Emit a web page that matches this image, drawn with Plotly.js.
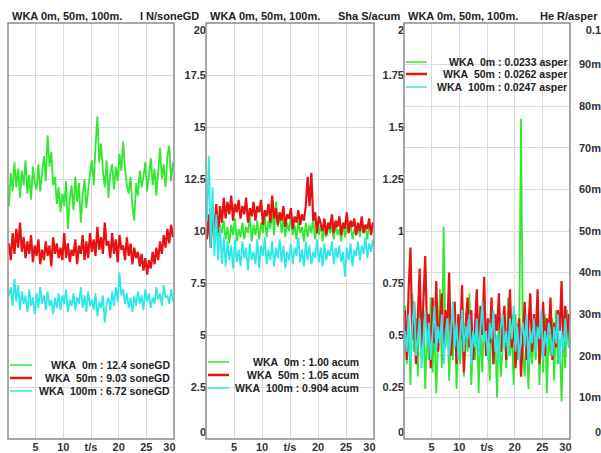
<!DOCTYPE html>
<html>
<head>
<meta charset="utf-8">
<script src="https://cdn.plot.ly/plotly-3.0.1.min.js"></script>
<style>html,body{margin:0;padding:0;background:#fff;}#chart{width:601px;height:453px;}</style>
</head>
<body>
<div id="chart"></div>
<script>
// ---------- data ----------
const t0 = 0.17, dt = 0.333, nPts = 90;   // sampling grid (s)
const seriesNames = ["WKA\u00a0\u00a00m", "WKA\u00a0\u00a050m", "WKA\u00a0\u00a0100m"];

// Panel 1: loudness N / soneGD
const loud0m = [11.2,12.8,11.9,13.3,12.1,13.0,11.6,12.9,12.2,
 13.4,11.8,12.7,11.5,13.1,12.3,12.0,13.2,11.9,
 12.8,13.6,12.4,14.6,13.1,13.8,12.2,
 12.6,11.3,12.1,10.9,11.8,11.2,12.4,10.1,11.5,12.2,11.0,12.6,
 11.4,12.3,10.4,11.7,12.5,11.1,12.0,
 12.8,13.4,12.2,14.1,15.5,13.3,14.2,12.9,
 12.1,13.4,11.6,12.8,13.2,12.0,
 13.1,12.4,13.7,12.9,14.3,13.0,12.2,
 11.8,12.6,11.2,10.5,12.3,11.7,12.9,12.1,
 12.6,13.3,11.9,12.8,13.5,12.2,13.0,11.7,12.7,14.0,12.5,13.2,12.1,13.6,14.1,12.4,13.3];
const loud50m = [9.4,8.6,9.9,8.9,10.1,9.2,10.4,9.0,9.7,
 8.7,9.5,8.9,9.8,8.5,9.3,8.8,9.6,8.4,
 9.1,8.6,9.5,8.8,9.3,8.3,9.7,8.9,9.4,8.7,
 9.2,8.6,9.9,8.7,9.4,8.5,9.1,8.8,9.6,8.4,
 9.3,8.9,9.8,8.6,9.5,8.7,9.9,9.0,
 9.6,8.8,10.2,9.1,9.7,8.9,10.4,9.3,
 9.5,8.7,9.9,8.9,9.6,8.5,9.8,9.1,
 9.3,8.6,9.7,8.8,9.4,8.4,9.2,8.7,
 9.0,8.3,8.9,8.1,8.7,7.9,8.6,8.2,9.0,8.4,
 9.2,8.6,9.5,8.9,9.8,9.2,10.1,9.4,10.3,9.7];
const loud100m = [6.9,7.3,6.4,7.7,6.6,7.4,6.2,7.1,6.5,
 6.9,6.1,7.2,6.4,6.8,6.0,7.0,6.3,7.3,
 6.5,6.9,6.2,7.1,6.4,6.7,6.0,6.8,6.3,7.0,
 6.2,6.9,6.5,7.2,6.1,6.7,6.4,7.0,6.2,6.8,
 6.5,7.3,6.3,6.9,6.1,7.1,6.4,6.7,
 6.2,7.0,5.9,6.6,6.3,6.9,5.6,6.5,
 6.8,6.2,7.1,6.4,7.3,6.6,8.0,6.9,
 7.2,6.5,7.0,6.3,6.8,6.1,6.9,6.4,
 7.1,6.5,6.9,6.2,7.2,6.6,7.0,6.3,6.8,6.5,
 7.3,6.7,7.0,6.4,7.4,6.8,6.9,6.5,7.2,6.6];

// Panel 2: sharpness S / acum
const sharp0m = [0.97,1.02,0.95,1.04,0.98,1.06,0.96,1.03,0.99,
 1.05,0.96,1.02,0.94,1.03,0.98,1.06,0.95,1.01,
 0.97,1.04,0.96,1.02,0.99,1.07,0.95,1.03,0.98,1.05,
 0.96,1.04,0.99,1.08,0.97,1.05,1.01,1.10,0.98,1.14,
 1.02,1.09,0.99,1.06,0.97,1.04,1.00,1.07,
 0.98,1.03,0.96,1.05,0.99,1.02,0.95,1.04,
 0.97,1.03,0.99,1.06,0.96,1.02,0.98,1.04,
 0.95,1.01,0.97,1.03,0.99,1.02,0.96,1.04,
 0.98,1.01,0.95,1.03,0.97,1.02,0.99,1.04,0.96,1.01,
 0.98,1.03,0.97,1.05,0.99,1.02,0.96,1.04,1.00,1.03];
const sharp50m = [0.96,1.08,0.92,1.10,1.01,1.13,0.99,1.12,1.04,
 1.16,1.06,1.14,1.08,1.17,1.05,1.13,1.09,1.15,
 1.06,1.12,1.08,1.16,1.04,1.11,1.07,1.14,1.05,1.12,
 1.09,1.15,1.03,1.10,1.07,1.13,1.04,1.17,1.06,1.11,
 1.03,1.09,1.05,1.12,1.02,1.08,1.06,1.11,
 1.01,1.07,1.04,1.10,1.03,1.08,1.05,1.12,
 1.26,1.12,1.28,1.05,1.09,0.99,1.07,1.03,
 1.00,1.06,0.98,1.04,1.01,1.08,0.99,1.05,
 1.02,1.07,0.98,1.04,1.01,1.09,0.99,1.05,1.02,1.06,
 0.98,1.04,1.00,1.07,0.99,1.03,1.01,1.06,0.98,1.04];
const sharp100m = [1.05,1.36,0.92,1.21,0.88,1.08,0.86,1.02,0.84,
 0.97,0.83,0.95,0.86,0.93,0.82,0.96,0.85,0.91,
 0.83,0.95,0.87,0.92,0.81,0.94,0.86,0.90,0.84,0.96,
 0.82,0.93,0.88,0.97,0.84,0.91,0.86,0.95,0.83,0.92,
 0.87,0.96,0.85,0.93,0.82,0.90,0.86,0.94,
 0.84,0.92,0.88,0.97,0.85,0.91,0.83,0.95,
 0.86,0.93,0.84,0.90,0.87,0.96,0.85,0.92,
 0.83,0.94,0.86,0.91,0.88,0.95,0.84,0.92,
 0.87,0.93,0.85,0.90,0.78,0.92,0.86,0.94,0.83,0.91,
 0.88,0.95,0.86,0.93,0.89,0.97,0.87,0.94,0.90,0.96];

// Panel 3: roughness R / asper
const rough0m = [0.032,0.018,0.027,0.013,0.035,0.021,0.029,0.015,0.038,
 0.022,0.031,0.012,0.026,0.019,0.034,0.016,0.028,0.011,
 0.024,0.036,0.017,0.051,0.022,0.030,0.014,0.027,0.019,0.033,
 0.012,0.025,0.018,0.031,0.015,0.028,0.021,0.035,0.013,0.024,
 0.019,0.030,0.011,0.027,0.016,0.033,0.020,0.026,
 0.014,0.029,0.018,0.025,0.010,0.031,0.015,0.022,
 0.028,0.017,0.034,0.020,0.026,0.013,0.030,0.019,
 0.024,0.077,0.021,0.015,0.027,0.012,0.024,0.018,
 0.026,0.019,0.033,0.013,0.028,0.016,0.030,0.011,0.025,0.020,
 0.029,0.014,0.031,0.018,0.024,0.009,0.027,0.017,0.031,0.022];
const rough50m = [0.031,0.019,0.036,0.046,0.024,0.033,0.018,0.029,0.041,
 0.022,0.035,0.044,0.026,0.030,0.017,0.034,0.023,0.038,
 0.021,0.029,0.035,0.019,0.031,0.026,0.040,0.020,0.028,0.033,
 0.018,0.030,0.024,0.037,0.016,0.028,0.034,0.022,0.031,0.019,
 0.027,0.036,0.021,0.032,0.025,0.039,0.020,0.029,
 0.023,0.034,0.018,0.030,0.026,0.035,0.021,0.028,
 0.032,0.019,0.027,0.036,0.022,0.030,0.017,0.025,
 0.029,0.015,0.024,0.033,0.019,0.028,0.035,0.021,
 0.030,0.024,0.036,0.018,0.027,0.033,0.020,0.029,0.025,0.034,
 0.019,0.028,0.022,0.031,0.026,0.038,0.021,0.032,0.024,0.030];
const rough100m = [0.026,0.021,0.030,0.018,0.027,0.033,0.020,0.025,0.029,
 0.017,0.024,0.031,0.022,0.028,0.019,0.026,0.032,0.021,
 0.027,0.023,0.030,0.018,0.025,0.029,0.020,0.026,0.033,0.022,
 0.028,0.019,0.025,0.031,0.021,0.027,0.024,0.030,0.018,0.026,
 0.022,0.029,0.020,0.027,0.033,0.023,0.026,0.019,
 0.028,0.024,0.031,0.021,0.025,0.018,0.027,0.030,
 0.022,0.026,0.020,0.029,0.024,0.032,0.021,0.027,
 0.019,0.025,0.028,0.022,0.030,0.018,0.026,0.023,
 0.029,0.021,0.027,0.024,0.031,0.019,0.026,0.022,0.028,0.025,
 0.020,0.027,0.023,0.030,0.018,0.026,0.021,0.029,0.024,0.022];

// legend values (means)
const loudMeans  = ["12.4", "9.03", "6.72"];
const sharpMeans = ["1.00", "1.05", "0.904"];
const roughMeans = ["0.0233", "0.0262", "0.0247"];
const units = ["soneGD", "acum", "asper"];

// titles
const titleLeft = "WKA 0m, 50m, 100m.";
const titleRight = ["l N/soneGD", "Sha S/acum", "He R/asper"];

// tick labels
const xTickVals = [5, 10, 15, 20, 25, 30];
const xTickText = ["5", "10", "t/s", "20", "25", "30"];
const y1TickVals = [0, 2.5, 5, 7.5, 10, 12.5, 15, 17.5, 20];
const y1TickText = ["0", "2.5", "5", "7.5", "10", "12.5", "15", "17.5", "20"];
const y2TickVals = [0, 0.25, 0.5, 0.75, 1, 1.25, 1.5, 1.75, 2];
const y2TickText = ["0", "0.25", "0.5", "0.75", "1", "1.25", "1.5", "1.75", "2"];
const y3TickVals = [0, 0.01, 0.02, 0.03, 0.04, 0.05, 0.06, 0.07, 0.08, 0.09, 0.1];
const y3TickText = ["0", "10m", "20m", "30m", "40m", "50m", "60m", "70m", "80m", "90m", "0.1"];

// ---------- styling / layout ----------
const W = 601, H = 453;
const colors = ["#2fe82f", "#e81212", "#2ee8e8"];
const widths = [1.8, 2.2, 1.8];
const legendWidths = [1.5, 2.5, 1.5];
const tArr = Array.from({length: nPts}, (_, i) => +(t0 + i * dt).toFixed(3));

const panels = [
  {x0: 8,   x1: 174, data: [loud0m, loud50m, loud100m],    means: loudMeans,  yr: [0, 20],  tv: y1TickVals, tt: y1TickText, labPos: 206, legRows: [365, 378, 391], legX0: 10,  legX1: 32,  legTextX: 172},
  {x0: 206, x1: 374, data: [sharp0m, sharp50m, sharp100m], means: sharpMeans, yr: [0, 2],   tv: y2TickVals, tt: y2TickText, labPos: 404, legRows: [362, 375, 388], legX0: 208, legX1: 229, legTextX: 361},
  {x0: 404, x1: 570, data: [rough0m, rough50m, rough100m], means: roughMeans, yr: [0, 0.1], tv: y3TickVals, tt: y3TickText, labPos: 601, legRows: [62, 74, 87],    legX0: 406, legX1: 427, legTextX: 569}
];
const titleRightX = [201, 403, 600];

const fontFam = "Liberation Sans, Arial, sans-serif";
const tickFont = {family: fontFam, size: 11, color: "#333", weight: "bold"};
const yd = [14 / H, 1 - 23 / H];

// end labels are nudged inward (top one down, bottom one up), as in the reference
function nudgeEnds(arr) {
  const n = arr.length;
  return arr.map((s, i) => i === n - 1 ? "\u00a0<br>" + s : (i === 0 ? s + "<br>\u00a0" : s));
}

const traces = [];
const layout = {
  width: W, height: H,
  margin: {l: 0, r: 0, t: 0, b: 0},
  paper_bgcolor: "#ffffff", plot_bgcolor: "#ffffff",
  showlegend: false,
  shapes: [], annotations: []
};

panels.forEach((p, k) => {
  const sfx = k === 0 ? "" : String(k + 1);
  const xName = "x" + sfx, yName = "y" + sfx;
  p.data.forEach((ys, s) => {
    traces.push({
      type: "scatter", mode: "lines", x: tArr, y: ys,
      xaxis: xName, yaxis: yName,
      line: {color: colors[s], width: widths[s]},
      hoverinfo: "skip"
    });
  });
  const xt = xTickText.map((s, i) => i === xTickText.length - 1 ? s + "\u00a0\u00a0\u00a0" : s);
  layout["xaxis" + sfx] = {
    domain: [p.x0 / W, p.x1 / W], range: [0, 30], anchor: yName,
    tickmode: "array", tickvals: xTickVals, ticktext: xt,
    showgrid: true, gridcolor: "#dadada", gridwidth: 1,
    zeroline: false, showline: false, ticks: "",
    tickfont: tickFont, fixedrange: true, automargin: false
  };
  layout["yaxis" + sfx] = {
    domain: yd, range: p.yr, anchor: "free", position: p.labPos / W, side: "left",
    tickmode: "array", tickvals: p.tv, ticktext: nudgeEnds(p.tt),
    showgrid: true, gridcolor: "#dadada", gridwidth: 1,
    zeroline: false, showline: false, ticks: "",
    tickfont: tickFont, fixedrange: true, automargin: false
  };
  // frame
  layout.shapes.push({
    type: "rect", xref: xName + " domain", yref: yName + " domain",
    x0: 0, x1: 1, y0: 0, y1: 1, line: {color: "#8c8c8c", width: 1.5}, layer: "above"
  });
  // legend samples + text
  p.legRows.forEach((ry, s) => {
    layout.shapes.push({
      type: "line", xref: "paper", yref: "paper",
      x0: p.legX0 / W, x1: p.legX1 / W, y0: 1 - ry / H, y1: 1 - ry / H,
      line: {color: colors[s], width: legendWidths[s]}, layer: "above"
    });
    layout.annotations.push({
      xref: "paper", yref: "paper", x: p.legTextX / W, y: 1 - ry / H,
      xanchor: "right", yanchor: "middle", showarrow: false,
      text: seriesNames[s] + " : " + p.means[s] + " " + units[k],
      font: {family: fontFam, size: 10.5, color: "#222", weight: "bold"}
    });
  });
  // titles
  layout.annotations.push({
    xref: "paper", yref: "paper", x: (p.x0 + 2) / W, y: 1 - 16 / H,
    xanchor: "left", yanchor: "middle", showarrow: false, text: titleLeft,
    font: {family: fontFam, size: 11, color: "#222", weight: "bold"}
  });
  layout.annotations.push({
    xref: "paper", yref: "paper", x: titleRightX[k] / W, y: 1 - 16 / H,
    xanchor: "right", yanchor: "middle", showarrow: false, text: titleRight[k],
    font: {family: fontFam, size: 11, color: "#222", weight: "bold"}
  });
});

Plotly.newPlot("chart", traces, layout, {staticPlot: true, displayModeBar: false});
</script>
</body>
</html>
